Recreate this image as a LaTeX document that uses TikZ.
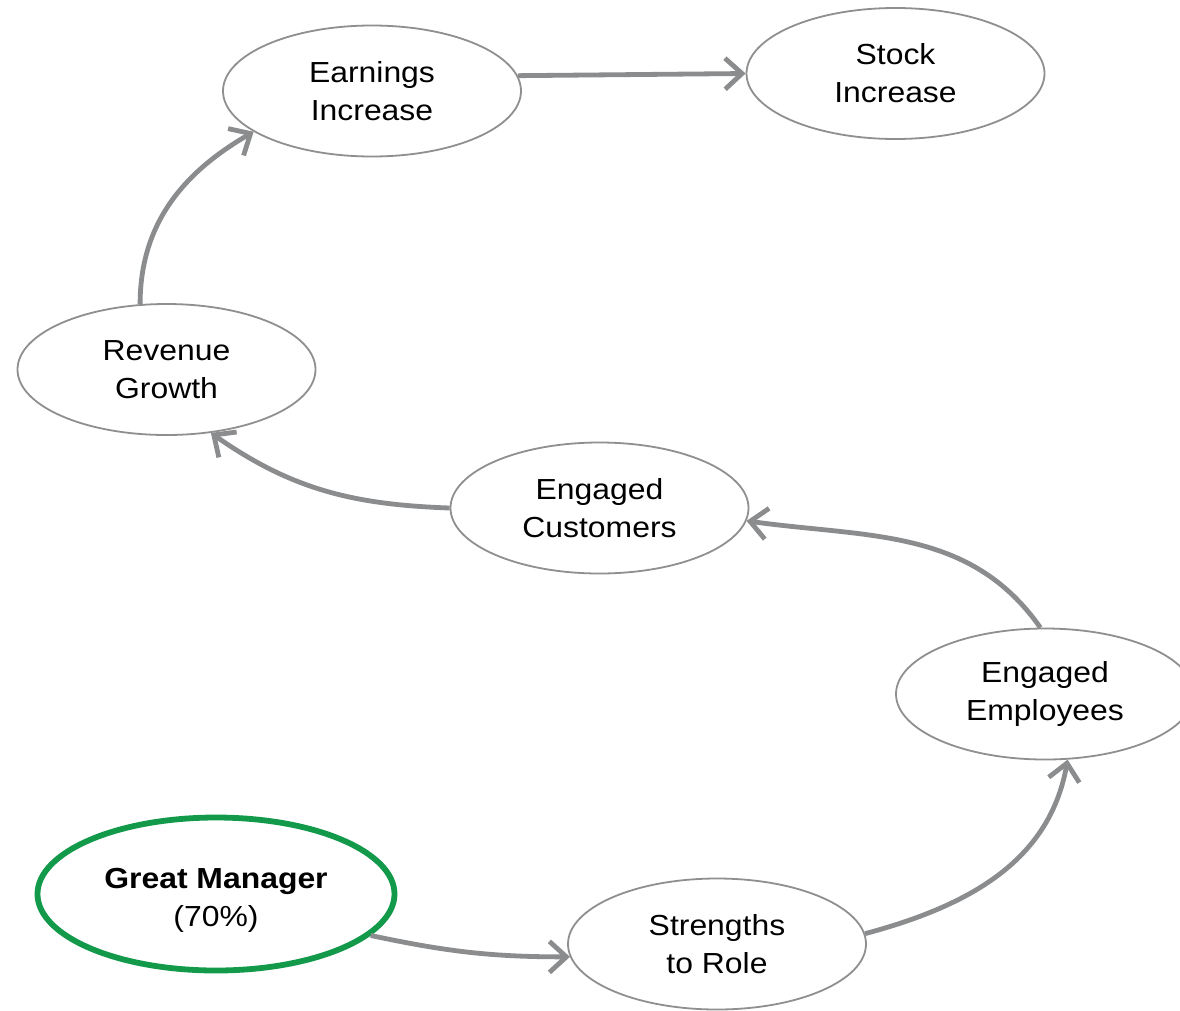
\documentclass[tikz,border=0pt]{standalone}
\usepackage{fontspec}
\setmainfont{Liberation Sans}[FakeStretch=1.1]
\usetikzlibrary{shapes.geometric,arrows.meta}
\definecolor{ellgray}{HTML}{8F8F8F}
\definecolor{arrgray}{HTML}{8A8C8E}
\definecolor{mgreen}{HTML}{12994A}
\begin{document}
\begin{tikzpicture}[x=1pt,y=1pt,
  bub/.style={ellipse,draw=ellgray,line width=1.8pt,minimum width=298pt,minimum height=131pt,inner sep=0pt,align=center,font=\fontsize{29}{38}\selectfont,text=black},
  txt/.style={align=center,inner sep=0pt,font=\fontsize{29}{38}\selectfont,text=black},
  flow/.style={draw=arrgray,line width=4.8pt,-{Straight Barb[length=17pt,width=31pt]}}]
\useasboundingbox (0,0) rectangle (1180,-1010);
\fill[white] (0,0) rectangle (1180,-1010);
\node[bub] (earn) at (372,-91) {Earnings\\Increase};
\node[bub] (stock) at (895.5,-73.5) {Stock\\Increase};
\node[bub] (rev) at (166.5,-369.5) {Revenue\\Growth};
\node[bub] (cust) at (599.5,-508) {Engaged\\Customers};
\node[bub] (emp) at (1045,-694) {Engaged\\Employees};
\node[bub,draw=mgreen,line width=5.8pt,minimum width=357pt,minimum height=153pt] (mgr) at (216,-894) {};
\node[txt] (mgrtxt) at ([yshift=-6pt]mgr.center) {\textbf{Great Manager}\\(70\%)};
\node[bub] (str) at (717,-944) {Strengths\\to Role};
\draw[flow] (earn.6.5) -- (stock.180);
\draw[flow] (rev.112) to[out=90,in=210] (earn.199);
\draw[flow] (cust.180) to[out=178,in=-35] (rev.-55);
\draw[flow] (emp.94) to[out=125,in=-8] (cust.-5);
\draw[flow] (str.4) to[out=15,in=-100] (emp.-71);
\draw[flow] (mgr.-15) to[out=-12,in=180] (str.185);
\end{tikzpicture}
\end{document}
